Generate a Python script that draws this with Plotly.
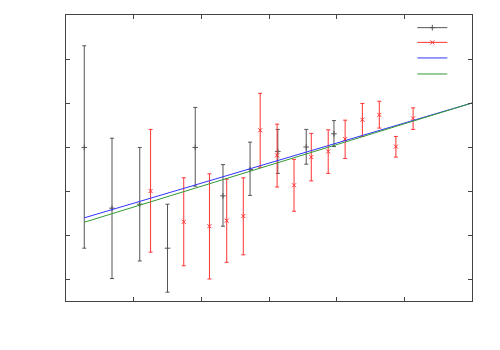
import plotly.graph_objects as go

# Series A (black, "+" markers) with asymmetric error bars
a_x = [0.27, 0.68, 1.09, 1.50, 1.91, 2.32, 2.72, 3.13, 3.55, 3.96]
a_y = [2.99, 1.61, 1.70, 0.70, 2.99, 1.89, 2.49, 2.90, 3.00, 3.30]
a_hi = [5.30, 3.20, 2.99, 1.70, 3.90, 2.60, 3.11, 3.40, 3.40, 3.60]
a_lo = [0.70, 0.01, 0.41, -0.30, 2.11, 1.20, 1.90, 2.40, 2.61, 3.01]

# Series B (red, "x" markers)
b_x = [1.25, 1.74, 2.12, 2.375, 2.62, 2.87, 3.12, 3.37, 3.625, 3.875, 4.125, 4.38, 4.63, 4.875, 5.13]
b_y = [2.00, 1.30, 1.20, 1.325, 1.43, 3.38, 2.81, 2.13, 2.77, 2.90, 3.18, 3.62, 3.73, 3.01, 3.65]
b_hi = [3.40, 2.30, 2.39, 2.27, 2.30, 4.22, 3.52, 2.72, 3.31, 3.39, 3.61, 3.99, 4.04, 3.24, 3.89]
b_lo = [0.61, 0.30, 0.00, 0.38, 0.55, 2.54, 2.09, 1.54, 2.23, 2.40, 2.74, 3.24, 3.43, 2.77, 3.40]

# Fit lines
fit_x = [0.27, 6.0]
fit_blue = [1.39, 4.00]
fit_green = [1.29, 4.00]

A_COL = "#555555"
B_COL = "#ff3333"
BLUE = "#3333ff"
GREEN = "#339933"

def plus(y, hi):
    return [h - v for v, h in zip(y, hi)]

def minus(y, lo):
    return [v - l for v, l in zip(y, lo)]

fig = go.Figure()

fig.add_trace(go.Scatter(
    x=a_x, y=a_y, mode="markers", showlegend=False,
    marker=dict(symbol="cross-thin", size=4, line=dict(color=A_COL, width=1)),
    error_y=dict(type="data", symmetric=False, array=plus(a_y, a_hi),
                 arrayminus=minus(a_y, a_lo), color=A_COL, thickness=1, width=2),
))
fig.add_trace(go.Scatter(
    x=b_x, y=b_y, mode="markers", showlegend=False,
    marker=dict(symbol="x-thin", size=4, line=dict(color=B_COL, width=1)),
    error_y=dict(type="data", symmetric=False, array=plus(b_y, b_hi),
                 arrayminus=minus(b_y, b_lo), color=B_COL, thickness=1, width=2),
))
fig.add_trace(go.Scatter(x=fit_x, y=fit_blue, mode="lines", showlegend=False,
                         line=dict(color=BLUE, width=1)))
fig.add_trace(go.Scatter(x=fit_x, y=fit_green, mode="lines", showlegend=False,
                         line=dict(color=GREEN, width=1)))

# legend proxies (no text, like the reference), one legend each for tight spacing
fig.add_trace(go.Scatter(x=[None], y=[None], mode="lines+markers", name=" ", legend="legend",
                         line=dict(color=A_COL, width=1),
                         marker=dict(symbol="cross-thin", size=4, line=dict(color=A_COL, width=1))))
fig.add_trace(go.Scatter(x=[None], y=[None], mode="lines+markers", name=" ", legend="legend2",
                         line=dict(color=B_COL, width=1),
                         marker=dict(symbol="x-thin", size=4, line=dict(color=B_COL, width=1))))
fig.add_trace(go.Scatter(x=[None], y=[None], mode="lines", name=" ", legend="legend3",
                         line=dict(color=BLUE, width=1)))
fig.add_trace(go.Scatter(x=[None], y=[None], mode="lines", name=" ", legend="legend4",
                         line=dict(color=GREEN, width=1)))

axis_common = dict(showgrid=False, zeroline=False, showline=True, linecolor="#444444",
                   linewidth=1, mirror="ticks", ticks="inside", ticklen=4,
                   tickcolor="#444444", showticklabels=False, dtick=1, tick0=0)

def leg(y):
    return dict(x=0.853, y=y, xanchor="left", yanchor="top",
                bgcolor="rgba(0,0,0,0)", font=dict(size=9, family="DejaVu Sans"))

fig.update_layout(
    width=500, height=350,
    margin=dict(l=58, r=36, t=7, b=57, autoexpand=False),
    paper_bgcolor="white", plot_bgcolor="white",
    xaxis=dict(range=[0, 6], **axis_common),
    yaxis=dict(range=[-0.5, 6], **axis_common),
    legend=leg(1.0065),
    legend2=leg(0.955),
    legend3=leg(0.9005),
    legend4=leg(0.8445),
    font=dict(family="DejaVu Sans"),
)

fig.write_html("out.html")
